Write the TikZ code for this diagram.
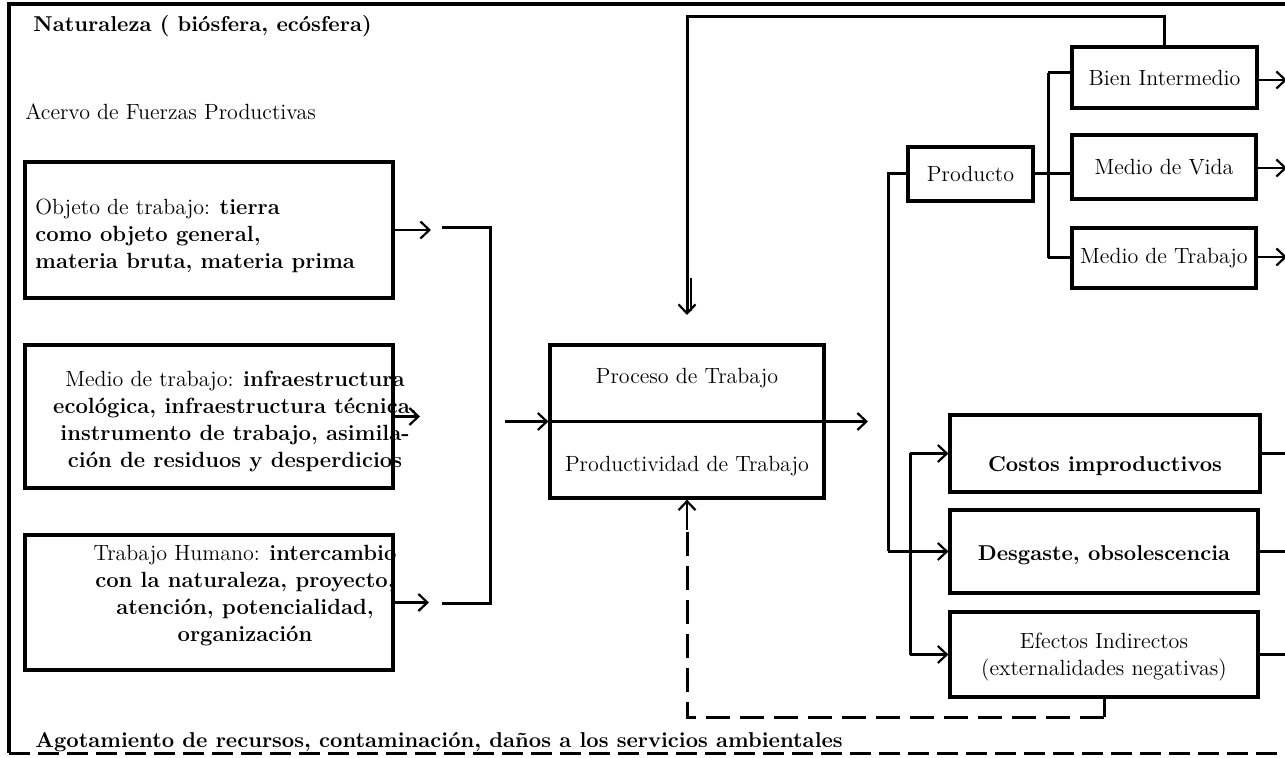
\documentclass[tikz,border=0pt]{standalone}
\usepackage{fontspec}
\usetikzlibrary{arrows.meta}
\begin{document}
\begin{tikzpicture}[x=0.5pt,y=-0.5pt,
  box/.style={draw, line width=1.6pt, inner sep=0pt},
  txt/.style={font=\fontsize{11}{13.5}\selectfont, align=center, inner sep=0pt},
  btxt/.style={txt, font=\fontsize{10.75}{13.5}\selectfont\bfseries},
  conn/.style={line width=1.5pt},
  tip/.style={-{Straight Barb[length=4.5pt,width=8.5pt,line width=1.1pt]}},
  arr/.style={line width=1.1pt, tip},
  dashline/.style={line width=1.5pt, dash pattern=on 12pt off 5pt},
]
\useasboundingbox (0,0) rectangle (1285,758);

% outer frame
\coordinate (fTL) at (9,4);
\coordinate (fTR) at (1292,4);
\coordinate (fBL) at (9,753);
\coordinate (fBR) at (1292,753);
\draw[line width=1.7pt] (fTR) -- (fTL) -- (fBL);
\draw[line width=1.5pt, dash pattern=on 10.5pt off 4pt] (fBL) -- (fBR);

% headings
\node[btxt, anchor=base west] (nat) at (33,32) {Naturaleza ( biósfera, ecósfera)};
\node[txt, anchor=base west] (acervo) at (25,120) {Acervo de Fuerzas Productivas};
\node[btxt, anchor=base west] (agot) at (35,747) {Agotamiento de recursos, contaminación, daños a los servicios ambientales};

% left boxes
\node[box, minimum width=184pt, minimum height=68pt] (b1) at (209,230) {};
\node[box, minimum width=184pt, minimum height=71.5pt] (b2) at (209,416.5) {};
\node[box, minimum width=184pt, minimum height=67.5pt] (b3) at (209,602.5) {};
\node[txt, anchor=west, align=left] (t1) at (35,236) {Objeto de trabajo: \textbf{tierra}\\ \textbf{como objeto general,}\\ \textbf{materia bruta, materia prima}};
\node[txt] (t2) at (235,422) {Medio de trabajo: \textbf{infraestructura}\\ \textbf{ecológica, infraestructura técnica,}\\ \textbf{instrumento de trabajo, asimila-}\\ \textbf{ción de residuos y desperdicios}};
\node[txt] (t3) at (245,596) {Trabajo Humano: \textbf{intercambio}\\ \textbf{con la naturaleza, proyecto,}\\ \textbf{atención, potencialidad,}\\ \textbf{organización}};

% process box
\node[box, minimum width=137pt, minimum height=76.5pt] (P) at (687,421.5) {};
\node[txt] (tP1) at (687,378) {Proceso de Trabajo};
\node[txt] (tP2) at (687,466) {Productividad de Trabajo};

% product boxes
\node[box, txt, draw, line width=1.6pt, minimum width=62.5pt, minimum height=27pt] (Prod) at (970.5,174) {Producto};
\node[box, txt, draw, line width=1.6pt, minimum width=92.5pt, minimum height=30.5pt] (Bien) at (1164.5,77.5) {Bien Intermedio};
\node[box, txt, draw, line width=1.6pt, minimum width=92pt, minimum height=32pt] (Vida) at (1164,167) {Medio de Vida};
\node[box, txt, draw, line width=1.6pt, minimum width=92pt, minimum height=30pt] (MTrab) at (1164,258) {Medio de Trabajo};

% cost boxes
\node[box, minimum width=155pt, minimum height=38.5pt] (Costos) at (1105,453.5) {};
\node[box, minimum width=154pt, minimum height=41.5pt] (Desg) at (1104,551.5) {};
\node[box, minimum width=154pt, minimum height=42.5pt] (Efec) at (1104,654.5) {};
\node[btxt] (tC) at (1105,466) {Costos improductivos};
\node[btxt] (tD) at (1104,555) {Desgaste, obsolescencia};
\node[txt] (tE) at (1104,657) {Efectos Indirectos\\(externalidades negativas)};

% inputs to process
\coordinate (a1e) at (431,230);
\coordinate (a2e) at (420,416.5);
\coordinate (a3e) at (429,602.5);
\draw[arr] (b1.east) -- (a1e);
\draw[arr] (b2.east) -- (a2e);
\draw[arr] (b3.east) -- (a3e);
\coordinate (j1a) at (442,228);
\coordinate (j1b) at (490,228);
\coordinate (j1c) at (490,604);
\coordinate (j1d) at (442,604);
\draw[conn] (j1a) -- (j1b) -- (j1c) -- (j1d);
\coordinate (a2b) at (505,421.5);
\draw[arr] (a2b) -- (P.west);

% process divider and output
\coordinate (Pout) at (868,421.5);
\draw[conn] (P.west) -- (P.east);
\draw[arr] (P.east) -- (Pout);

% top feedback from Bien Intermedio
\coordinate (fbR) at (1164.5,17);
\coordinate (fbL) at (687,17);
\coordinate (fbE) at (687,315);
\draw[conn, tip] (Bien.north) -- (fbR) -- (fbL) -- (fbE);
\coordinate (dbl1) at (691,278);
\coordinate (dbl2) at (691,311);
\draw[line width=1.1pt] (dbl1) -- (dbl2);

% product branching
\coordinate (v1t) at (888,174);
\coordinate (v1b) at (888,551.5);
\draw[conn] (Prod.west) -- (v1t) -- (v1b);
\draw[arr] (v1b) -- (Desg.west);
\coordinate (v2t) at (910,453.5);
\coordinate (v2b) at (910,654.5);
\draw[conn] (v2t) -- (v2b);
\draw[arr] (v2t) -- (Costos.west);
\draw[arr] (v2b) -- (Efec.west);

\coordinate (v3m) at (1048,174);
\coordinate (v3t) at (1048,73);
\coordinate (v3b) at (1048,258);
\draw[conn] (Prod.east) -- (v3m);
\draw[conn] (v3t) -- (v3b);
\draw[conn] (v3t) -- (Bien.west |- v3t);
\draw[conn] (v3m) -- (Vida.west |- v3m);
\draw[conn] (v3b) -- (MTrab.west);

% right outputs
\coordinate (r1) at (1287,80);
\coordinate (r2) at (1287,168);
\coordinate (r3) at (1287,257);
\draw[arr] (Bien.east |- r1) -- (r1);
\draw[arr] (Vida.east |- r2) -- (r2);
\draw[arr] (MTrab.east |- r3) -- (r3);
\coordinate (rc) at (1292,453.5);
\coordinate (rd) at (1292,551.5);
\coordinate (re) at (1292,654.5);
\draw[conn] (Costos.east) -- (rc);
\draw[conn] (Desg.east) -- (rd);
\draw[conn] (Efec.east) -- (re);

% bottom dashed feedback
\coordinate (d1) at (1104,717);
\coordinate (d2) at (687,717);
\coordinate (d3) at (687,530);
\draw[conn] (Efec.south) -- (d1);
\draw[dashline] (d1) -- (d2) -- (d3);
\draw[arr] (d3) -- (P.south);
\end{tikzpicture}
\end{document}
